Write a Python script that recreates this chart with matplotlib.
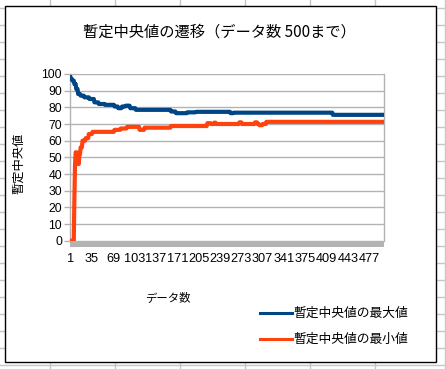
import matplotlib
matplotlib.use("Agg")
import matplotlib.pyplot as plt
from matplotlib.lines import Line2D
from matplotlib.patches import Rectangle
import numpy as np

plt.rcParams['font.family'] = ['Liberation Sans', 'Noto Sans CJK JP', 'DejaVu Sans']
CJK = ['Noto Sans CJK JP', 'DejaVu Sans']

# ---- data (run-length: value, count) ----
max_values = [98, 97, 96, 94, 91, 88, 87, 86, 85, 83, 82, 81.5, 80.5, 79.5, 80.5,
              81, 79.5, 78.5, 77.5, 76.5, 77, 77.3, 76.5, 76.8, 75.5]
max_counts = [1, 2, 3, 3, 3, 4, 6, 8, 8, 7, 10, 15, 6, 6, 6,
              7, 9, 56, 8, 18, 14, 55, 5, 158, 82]

min_values = [0, 25, 45, 53, 50, 46, 52, 56, 60, 61.5, 64, 65.3, 66.5, 67.3, 68.3,
              66.5, 67.8, 68.8, 70.5, 70, 70.8, 70, 71, 70, 71, 70, 69.3, 70, 71.3]
min_counts = [6, 1, 1, 3, 1, 2, 2, 3, 5, 5, 6, 35, 10, 10, 20,
              8, 42, 58, 6, 5, 3, 37, 4, 21, 4, 3, 5, 6, 188]

n_data = 500
tick_step = 34
series_names = ['暫定中央値の最大値', '暫定中央値の最小値']
title = '暫定中央値の遷移（データ数 500まで）'
xlabel = 'データ数'
ylabel = '暫定中央値'

max_series = np.repeat(max_values, max_counts)
min_series = np.repeat(min_values, min_counts)
cats = np.arange(1, n_data + 1)

W, H = 446, 369
fig = plt.figure(figsize=(W / 100, H / 100), dpi=100)
fig.patch.set_facecolor('white')

def fx(px):
    return px / W

def fy(py):
    return 1 - py / H

# spreadsheet grid in background
gcol = '#c6c6c6'
for xv in [50, 115, 180, 245, 310, 375, 445]:
    fig.add_artist(Line2D([fx(xv), fx(xv)], [0, 1], color=gcol, lw=1, zorder=0))
for yv in range(8, 370, 17):
    fig.add_artist(Line2D([0, 1], [fy(yv), fy(yv)], color=gcol, lw=1, zorder=0))

# chart frame
fig.add_artist(Rectangle((fx(4.5), fy(362)), fx(436) - fx(4.5), fy(6) - fy(362),
                         facecolor='white', edgecolor='black', lw=1.0, zorder=1))

ax = fig.add_axes([fx(70.3), fy(240.7), fx(384) - fx(70.3), fy(74) - fy(240.7)])
ax.set_zorder(2)
ax.set_facecolor('white')

ax.plot(cats, max_series, color='#004586', lw=3.0, solid_joinstyle='round', zorder=3)
ax.plot(cats, min_series, color='#ff420e', lw=3.0, solid_joinstyle='round', zorder=3)

ax.set_xlim(0.5, n_data + 0.5)
ax.set_ylim(0, 100)
ax.set_yticks(np.arange(0, 101, 10))
ax.yaxis.grid(True, color='#b3b3b3', lw=1)
ax.set_axisbelow(True)
xt = np.arange(1, n_data + 1, tick_step)
ax.set_xticks(xt)
ax.set_xticklabels([str(v) for v in xt])
ax.tick_params(axis='x', length=0, pad=9, labelsize=9.2)
ax.tick_params(axis='y', length=4, color='#b3b3b3', width=1, pad=2, labelsize=8.8)

for s in ['top', 'bottom']:
    ax.spines[s].set_visible(False)
ax.spines['left'].set_color('#b3b3b3')
ax.spines['right'].set_color('#b3b3b3')
ax.spines['left'].set_linewidth(1)
ax.spines['right'].set_linewidth(1)

# gray floor band under plot
ax.add_patch(Rectangle((0, -0.038), 1, 0.038, transform=ax.transAxes,
                       facecolor='#b3b3b3', edgecolor='none', clip_on=False, zorder=4))

fig.text(fx(219), fy(32), title, ha='center', va='center', fontsize=11, family=CJK)
fig.text(fx(19), fy(163), ylabel, ha='center', va='center', rotation=90,
         fontsize=8.8, family=CJK)
fig.text(fx(145), fy(298), xlabel, ha='left', va='center', fontsize=8.2, family=CJK)

# legend
colors = ['#004586', '#ff420e']
for name, c, yy in zip(series_names, colors, [313, 339]):
    fig.add_artist(Line2D([fx(260), fx(292)], [fy(yy), fy(yy)], color=c, lw=2.2, zorder=5))
    fig.text(fx(293), fy(yy), name, ha='left', va='center', fontsize=9.2, family=CJK)

fig.savefig('out.png', dpi=100)
